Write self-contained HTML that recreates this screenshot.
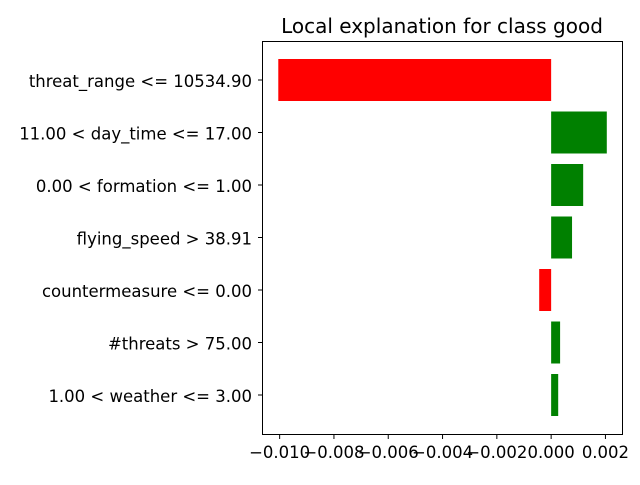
<!DOCTYPE html>
<html><head><meta charset="utf-8"><style>
body{margin:0;background:#fff;}
svg text{font-family:"DejaVu Sans","Liberation Sans",sans-serif;}
</style></head><body>
<svg id="chart" width="640" height="480" xmlns="http://www.w3.org/2000/svg">
<rect width="640" height="480" fill="#fff"/>
<text x="442" y="33" font-size="20" text-anchor="middle">Local explanation for class good</text>
<g id="bars"></g>
<g id="yticks"></g>
<g id="xticks"></g>
<rect x="262.5" y="41.5" width="360" height="393" fill="none" stroke="#000" stroke-width="1"/>
</svg>
<script>
const categories = ["threat_range <= 10534.90","11.00 < day_time <= 17.00","0.00 < formation <= 1.00","flying_speed > 38.91","countermeasure <= 0.00","#threats > 75.00","1.00 < weather <= 3.00"];
const values = [-0.01005, 0.00205, 0.00118, 0.00077, -0.00044, 0.00033, 0.00026];
const xTicks = [-0.010,-0.008,-0.006,-0.004,-0.002,0.000,0.002];
const xTickLabels = ["\u22120.010","\u22120.008","\u22120.006","\u22120.004","\u22120.002","0.000","0.002"];

const NS="http://www.w3.org/2000/svg";
const x0=262, x1=622, xmin=-0.01065, xmax=0.00261;
function xs(v){return x0+(v-xmin)/(xmax-xmin)*(x1-x0);}
const yTop=80, yStep=52.5, barH=42;
function ys(i){return yTop+i*yStep;}
const bars=document.getElementById('bars'), yt=document.getElementById('yticks'), xt=document.getElementById('xticks');
categories.forEach((c,i)=>{
  const v=values[i];
  const r=document.createElementNS(NS,'rect');
  const a=xs(Math.min(0,v)), b=xs(Math.max(0,v));
  r.setAttribute('x',a);r.setAttribute('width',b-a);
  r.setAttribute('y',ys(i)-barH/2);r.setAttribute('height',barH);
  r.setAttribute('fill',v<0?'#ff0000':'#008000');
  
  
  bars.appendChild(r);
  const l=document.createElementNS(NS,'line');
  l.setAttribute('x1',262);l.setAttribute('x2',258);l.setAttribute('y1',ys(i));l.setAttribute('y2',ys(i));l.setAttribute('stroke','#000');
  
  
  yt.appendChild(l);
  const t=document.createElementNS(NS,'text');
  t.setAttribute('x',252);t.setAttribute('y',ys(i)+7);t.setAttribute('text-anchor','end');t.setAttribute('font-size','16.5');
  t.textContent=c;
  
  
  yt.appendChild(t);
});
xTicks.forEach((v,i)=>{
  const l=document.createElementNS(NS,'line');
  l.setAttribute('x1',xs(v));l.setAttribute('x2',xs(v));l.setAttribute('y1',434);l.setAttribute('y2',439);l.setAttribute('stroke','#000');
  
  
  xt.appendChild(l);
  const t=document.createElementNS(NS,'text');
  t.setAttribute('x',xs(v));t.setAttribute('y',458);t.setAttribute('text-anchor','middle');t.setAttribute('font-size','16.5');
  t.textContent=xTickLabels[i];
  
  
  xt.appendChild(t);
});
</script>
</body></html>
